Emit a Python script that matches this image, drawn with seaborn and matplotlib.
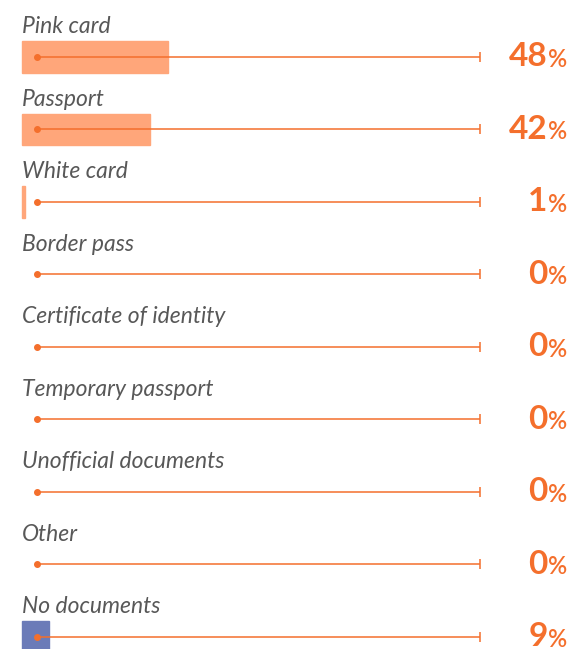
import numpy as np
import matplotlib
matplotlib.use("Agg")
import matplotlib.pyplot as plt
import seaborn as sns

categories = ["Pink card", "Passport", "White card", "Border pass",
              "Certificate of identity", "Temporary passport",
              "Unofficial documents", "Other", "No documents"]
values = [48, 42, 1, 0, 0, 0, 0, 0, 9]
bar_colors = ["#FFA67A"] * 8 + ["#6B7BB8"]

orange = "#F46F2C"
track_start, track_end = 4.9, 150.7

sns.set_style("white")
plt.rcParams["font.family"] = ["Lato", "DejaVu Sans"]

fig = plt.figure(figsize=(5.72, 6.49), dpi=100)
ax = fig.add_axes([0, 0, 1, 1])

sns.barplot(x=values, y=categories, hue=categories, palette=bar_colors,
            orient="h", width=0.43, legend=False, saturation=1, ax=ax)
# thicken tiny bars a touch (white card is 1%), skip empty ones
for p, c in zip(ax.patches, bar_colors):
    if p.get_width() > 0:
        p.set_edgecolor(c)
        p.set_linewidth(1)

for i, (cat, val) in enumerate(zip(categories, values)):
    ax.hlines(i, track_start, track_end, color=orange, lw=1.1)
    ax.plot(track_start, i, "o", color=orange, ms=4)
    ax.plot(track_end, i, "|", color=orange, ms=7, mew=1.1)
    ax.text(0, i - 0.33, cat, ha="left", va="baseline", fontsize=16.5,
            style="italic", color="#585858")
    ax.annotate("%", (179.3, i), ha="right", va="center", fontsize=17,
                fontweight="semibold", color=orange,
                xytext=(0, -1.5), textcoords="offset points")
    ax.annotate(str(val), (179.3, i), ha="right", va="center", fontsize=24,
                fontweight="bold", color=orange,
                xytext=(-14, 0), textcoords="offset points")

ax.set_xlim(-22 / 3.04, 550 / 3.04)
ax.set_ylim(8.166, -0.786)
ax.axis("off")

fig.savefig("out.png", dpi=100)
